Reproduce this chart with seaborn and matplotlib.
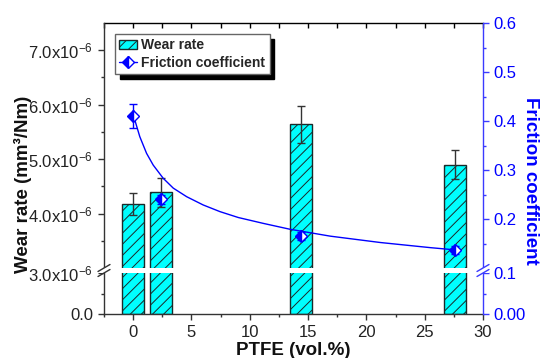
import numpy as np
import pandas as pd
import matplotlib
matplotlib.use("Agg")
import matplotlib.pyplot as plt
import seaborn as sns
from matplotlib.patches import Rectangle
from matplotlib.lines import Line2D
from matplotlib.ticker import FixedLocator, FixedFormatter, MultipleLocator

# ---------------- data ----------------
ptfe = [0, 2.4, 14.4, 27.6]                       # PTFE content (vol.%)
wear_rate = [4.18e-6, 4.39e-6, 5.64e-6, 4.90e-6]  # mm^3/Nm
wear_err = [0.20e-6, 0.27e-6, 0.34e-6, 0.27e-6]
friction = [0.41, 0.24, 0.166, 0.136]
friction_err = [0.025, 0.010, 0.008, 0.008]
fit_x = [0.1, 0.23, 0.57, 1.15, 1.72, 2.58, 3.44, 4.59, 6.01, 7.45, 9.02,
         11.17, 13.46, 16.9, 21.2, 25.5, 27.6]
fit_y = [0.407, 0.395, 0.368, 0.334, 0.310, 0.283, 0.263, 0.2455, 0.2286,
         0.215, 0.203, 0.191, 0.179, 0.165, 0.152, 0.1415, 0.137]

left_major = [0, 3e-6, 4e-6, 5e-6, 6e-6, 7e-6]
left_labels = ["0.0", "3.0x10$^{-6}$", "4.0x10$^{-6}$", "5.0x10$^{-6}$",
               "6.0x10$^{-6}$", "7.0x10$^{-6}$"]
left_minor = [1.5e-6, 3.5e-6, 4.5e-6, 5.5e-6, 6.5e-6]
right_major = [0, 0.1, 0.2, 0.3, 0.4, 0.5, 0.6]
right_labels = ["0.00", "0.1", "0.2", "0.3", "0.4", "0.5", "0.6"]
right_minor = [0.05, 0.15, 0.25, 0.35, 0.45, 0.55]

# ---------------- style ----------------
sns.set_style("ticks")
plt.rcParams["font.family"] = ["Liberation Sans", "DejaVu Sans"]
plt.rcParams["mathtext.fontset"] = "custom"
plt.rcParams["mathtext.rm"] = "Liberation Sans"
plt.rcParams["mathtext.it"] = "Liberation Sans:italic"
plt.rcParams["mathtext.bf"] = "Liberation Sans:bold"
plt.rcParams["mathtext.default"] = "rm"
plt.rcParams["hatch.linewidth"] = 0.7

CYAN = "#00FFFF"
EDGE = "#1a2a2a"
BLUE = "#0000FF"
SPINE_BLUE = "#3a3aff"
GRAY = "#333333"

# broken-axis scale (fractions of axis height)
H = 291.0
L_FRAC = 41.0 / H
U_FRAC = 46.0 / H


def make_scale(brk, top):
    def fwd(v):
        v = np.asarray(v, dtype=float)
        return np.where(v <= brk, v / brk * L_FRAC,
                        U_FRAC + (v - brk) / (top - brk) * (1 - U_FRAC))

    def inv(f):
        f = np.asarray(f, dtype=float)
        lo = f / L_FRAC * brk
        hi = brk + (f - U_FRAC) / (1 - U_FRAC) * (top - brk)
        return np.where(f <= L_FRAC, lo, np.where(f < U_FRAC, brk, hi))
    return fwd, inv


fig = plt.figure(figsize=(5.41, 3.58), dpi=100)
ax = fig.add_axes([104 / 541, 44 / 358, 379 / 541, 291 / 358])

df = pd.DataFrame({"ptfe": ptfe, "wear": wear_rate})
sns.barplot(data=df, x="ptfe", y="wear", native_scale=True, orient="x",
            width=0.79, color=CYAN, saturation=1, edgecolor=EDGE,
            linewidth=1.0, hatch="///", errorbar=None, ax=ax, zorder=2)
ax.errorbar(ptfe, wear_rate, yerr=wear_err, fmt="none", ecolor=GRAY,
            elinewidth=1, capsize=3, capthick=1, zorder=3)

ax.set_yscale("function", functions=make_scale(3e-6, 7.5e-6))
ax.set_ylim(0, 7.5e-6)
ax.set_xlim(-2.5, 30)
ax.yaxis.set_major_locator(FixedLocator(left_major))
ax.yaxis.set_major_formatter(FixedFormatter(left_labels))
ax.yaxis.set_minor_locator(FixedLocator(left_minor))
ax.yaxis.set_minor_formatter(FixedFormatter([""] * len(left_minor)))
ax.xaxis.set_major_locator(MultipleLocator(5))
ax.xaxis.set_minor_locator(MultipleLocator(2.5))

ax.tick_params(axis="both", which="major", direction="out", length=4.5,
               width=1, colors=GRAY, labelcolor="#222222", labelsize=12)
ax.tick_params(axis="both", which="minor", direction="out", length=2.5,
               width=1, colors=GRAY)
for s in ["left", "bottom"]:
    ax.spines[s].set_color(GRAY)
    ax.spines[s].set_linewidth(1.0)
ax.spines["top"].set_visible(False)
ax.spines["right"].set_visible(False)

sec = ax.secondary_xaxis("top")
sec.xaxis.set_major_locator(MultipleLocator(5))
sec.xaxis.set_minor_locator(MultipleLocator(2.5))
sec.tick_params(axis="x", which="both", direction="in", length=3.5,
                width=1, colors="black", labeltop=False)
sec.spines["top"].set_color("black")
sec.spines["top"].set_linewidth(1.0)

ax.set_ylabel("Wear rate (mm³/Nm)", fontsize=13.5, fontweight="bold",
              color="#111111", va="center")
ax.yaxis.set_label_coords(-0.2137, 0.445)
ax.set_xlabel("PTFE (vol.%)", fontsize=13.5, fontweight="bold",
              color="#111111", va="baseline")
ax.xaxis.set_label_coords(0.5, -0.141)

# ---------------- right axis ----------------
ax2 = ax.twinx()
ax2.set_yscale("function", functions=make_scale(0.1, 0.6))
ax2.set_ylim(0, 0.6)
ax2.plot(fit_x, fit_y, color=BLUE, lw=1, zorder=3)
ax2.errorbar(ptfe, friction, yerr=friction_err, fmt="D", ms=6.5,
             fillstyle="left", markerfacecolor=BLUE,
             markerfacecoloralt="white", markeredgecolor=BLUE, mew=1,
             ecolor=BLUE, elinewidth=1, capsize=3, capthick=1, zorder=4)
ax2.yaxis.set_major_locator(FixedLocator(right_major))
ax2.yaxis.set_major_formatter(FixedFormatter(right_labels))
ax2.yaxis.set_minor_locator(FixedLocator(right_minor))
ax2.yaxis.set_minor_formatter(FixedFormatter([""] * len(right_minor)))
ax2.tick_params(axis="y", which="major", direction="out", length=4.5,
                width=1, colors=SPINE_BLUE, labelcolor=BLUE, labelsize=12,
                pad=3.3)
ax2.tick_params(axis="y", which="minor", direction="out", length=2.5,
                width=1, colors=SPINE_BLUE)
for s in ["left", "bottom", "top"]:
    ax2.spines[s].set_visible(False)
ax2.spines["right"].set_color(SPINE_BLUE)
ax2.spines["right"].set_linewidth(1.0)
ax2.set_ylabel("Friction coefficient", fontsize=13.5, fontweight="bold",
               color=BLUE, rotation=270, va="center")
ax2.yaxis.set_label_coords(1.1266, 0.457)

# ---------------- axis break ----------------
ax2.add_patch(Rectangle((-0.016, L_FRAC), 1.032, U_FRAC - L_FRAC,
                        transform=ax2.transAxes, facecolor="white",
                        edgecolor="none", clip_on=False, zorder=10))
dx, dy = 6 / 379, 3.5 / 291
for xs, col in [(0.0, GRAY), (1.0, SPINE_BLUE)]:
    for yy in (L_FRAC, U_FRAC):
        ax2.plot([xs - dx, xs + dx], [yy - dy, yy + dy], color=col, lw=1,
                 transform=ax2.transAxes, clip_on=False, zorder=11)

# ---------------- legend ----------------
wear_handle = Rectangle((0, 0), 1, 1, facecolor=CYAN, edgecolor=EDGE,
                        hatch="///", linewidth=1)
fric_handle = Line2D([], [], color=BLUE, lw=1, marker="D", ms=6.5,
                     fillstyle="left", markerfacecolor=BLUE,
                     markerfacecoloralt="white", markeredgecolor=BLUE)
leg = ax2.legend([wear_handle, fric_handle], ["Wear rate", "Friction coefficient"],
                 loc="upper left", bbox_to_anchor=(0.029, 0.962),
                 borderaxespad=0, frameon=True, fancybox=False,
                 shadow={"ox": 3.5, "oy": -3.5, "facecolor": "black",
                         "edgecolor": "black", "alpha": 1},
                 prop={"weight": "bold", "size": 10}, handlelength=1.3,
                 handletextpad=0.3, borderpad=0.3, labelspacing=0.25)
leg.get_frame().set_edgecolor("#666666")
leg.get_frame().set_linewidth(1.0)
leg.get_frame().set_alpha(1)
leg.set_zorder(20)

fig.savefig("out.png", dpi=100)
